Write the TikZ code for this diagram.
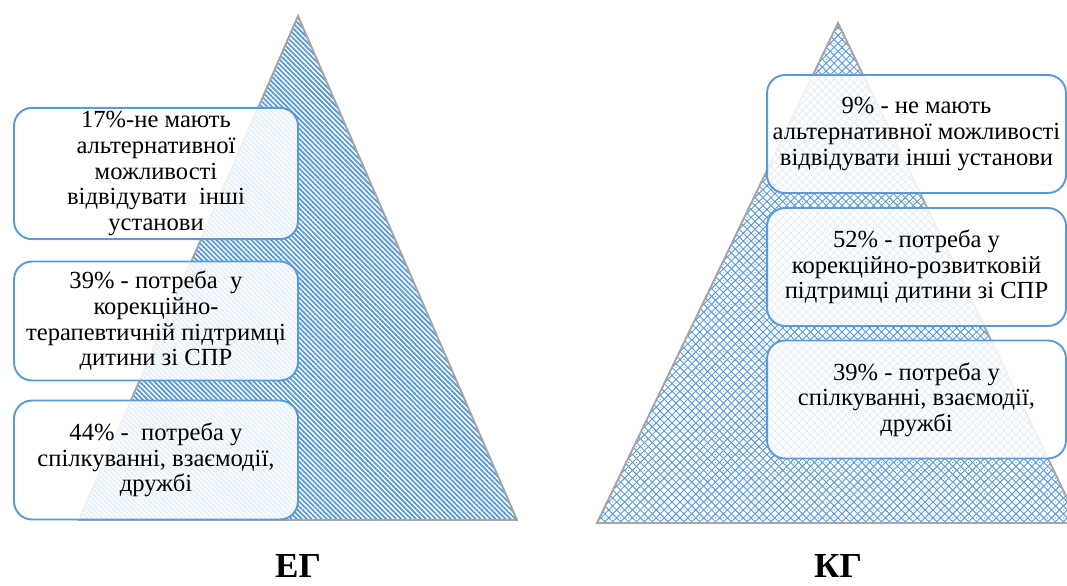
\documentclass[tikz,border=0pt]{standalone}
\usepackage{fontspec}
\setmainfont{Liberation Serif}
\usetikzlibrary{patterns.meta}
\definecolor{boxblue}{HTML}{5B9BD5}
\definecolor{edgegray}{HTML}{A5A5A5}
\tikzdeclarepattern{name=kglattice, type=uncolored,
  bounding box={(-.5pt,-.5pt) and (5pt,5pt)}, tile size={(4.5pt,4.5pt)},
  code={\draw[line width=0.55pt] (0,2.25pt) -- (2.25pt,0) -- (4.5pt,2.25pt) -- (2.25pt,4.5pt) -- cycle;
        \fill (2.25pt,2.25pt) circle (0.35pt);}}
\tikzset{
  tri/.style={draw=edgegray, line width=1.1pt},
  infobox/.style={draw=boxblue, line width=1.1pt, rounded corners=0.36cm, fill=white, fill opacity=0.85, text opacity=1,
    align=center, font=\fontsize{14}{14.6}\selectfont, inner sep=2pt},
  egbox/.style={infobox, minimum width=5.68cm, minimum height=2.38cm},
  kgbox/.style={infobox, minimum width=5.98cm, minimum height=2.36cm},
  grouplabel/.style={font=\fontsize{20}{24}\selectfont\bfseries, inner sep=0pt}
}
\begin{document}
\begin{tikzpicture}[x=0.02cm, y=-0.02cm]
\clip (0,0) rectangle (1067,585);

\draw[tri, pattern={Lines[angle=-45, distance=2pt, line width=1.05pt]}, pattern color=boxblue] (298,16) -- (517,520) -- (79,520) -- cycle;
\draw[tri, pattern=kglattice, pattern color=boxblue] (838,23) -- (1079,523) -- (597,523) -- cycle;

\node[egbox] (eg1) at (156,173.5) {17\%-не мають\\альтернативної\\можливості\\відвідувати~ інші\\установи};
\node[egbox] (eg2) at (156,321) {39\% - потреба~ у\\корекційно-\\терапевтичній підтримці\\дитини зі СПР};
\node[egbox] (eg3) at (156,460) {44\% - ~потреба у\\спілкуванні, взаємодії,\\дружбі};

\node[kgbox] (kg1) at (916.5,134) {9\% - не мають\\альтернативної можливості\\відвідувати інші установи};
\node[kgbox] (kg2) at (916.5,267) {52\% - потреба у\\корекційно-розвитковій\\підтримці дитини зі СПР};
\node[kgbox] (kg3) at (916.5,399.5) {39\% - потреба у\\спілкуванні, взаємодії,\\дружбі};

\node[grouplabel] (eg) at (298,566) {ЕГ};
\node[grouplabel] (kg) at (838,566) {КГ};
\end{tikzpicture}
\end{document}
